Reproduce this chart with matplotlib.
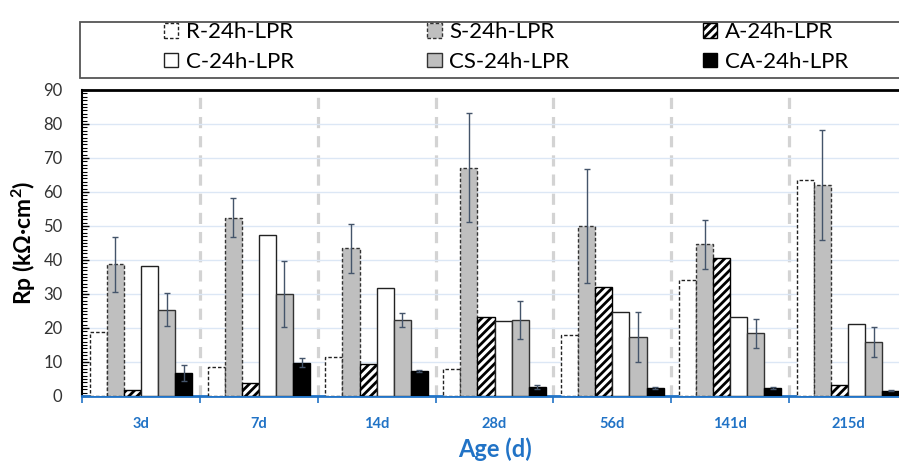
import matplotlib
matplotlib.use("Agg")
import matplotlib.pyplot as plt
import numpy as np
from matplotlib.patches import Patch, Rectangle

plt.rcParams["font.family"] = ["Lato", "DejaVu Sans"]
plt.rcParams["mathtext.fontset"] = "custom"
plt.rcParams["mathtext.bf"] = "Lato:bold"
plt.rcParams["hatch.linewidth"] = 2.0

ages = ["3d", "7d", "14d", "28d", "56d", "141d", "215d"]

r_24h = [18.7, 8.4, 11.4, 7.8, 17.8, 34.0, 63.5]
s_24h = [38.7, 52.5, 43.4, 67.2, 50.0, 44.6, 62.0]
s_err = [8.2, 5.6, 7.1, 15.9, 16.9, 7.3, 16.2]
a_24h = [1.8, 3.7, 9.5, 23.3, 32.0, 40.5, 3.1]
c_24h = [38.3, 47.4, 31.9, 22.0, 24.6, 23.1, 21.3]
cs_24h = [25.4, 30.1, 22.3, 22.3, 17.3, 18.4, 16.0]
cs_err = [4.8, 9.7, 2.0, 5.5, 7.4, 4.3, 4.4]
ca_24h = [6.7, 9.8, 7.4, 2.6, 2.3, 2.3, 1.6]
ca_err = [2.4, 1.4, 0.3, 0.5, 0.3, 0.3, 0.2]

BLUE = "#2173C6"
GREY = "#BFBFBF"
ERR = "#44546A"

series = [
    ("R-24h-LPR", r_24h, None, dict(facecolor="white", edgecolor="#222222", linestyle=(0, (2.5, 1.5)))),
    ("S-24h-LPR", s_24h, s_err, dict(facecolor=GREY, edgecolor="#333333", linestyle=(0, (2.5, 1.5)))),
    ("A-24h-LPR", a_24h, None, dict(facecolor="white", edgecolor="black", hatch="////")),
    ("C-24h-LPR", c_24h, None, dict(facecolor="white", edgecolor="#222222")),
    ("CS-24h-LPR", cs_24h, cs_err, dict(facecolor=GREY, edgecolor="#333333")),
    ("CA-24h-LPR", ca_24h, ca_err, dict(facecolor="black", edgecolor="black")),
]

fig = plt.figure(figsize=(8.99, 4.62), dpi=100)
ax = fig.add_axes([82 / 899, 1 - 396 / 462, 825 / 899, 306 / 462])

x = np.arange(len(ages))
w = 0.145
handles = []
for i, (name, vals, err, style) in enumerate(series):
    pos = x + (i - 2.5) * w
    ax.bar(pos, vals, width=w, linewidth=1.0, zorder=3, **style)
    if err is not None:
        ax.errorbar(pos, vals, yerr=err, fmt="none", ecolor=ERR, elinewidth=1.0,
                    capsize=2.5, capthick=1.0, zorder=4)
    handles.append(Patch(label=name, linewidth=1.0, **style))

ax.set_xlim(-0.5, len(ages) - 0.5)
ax.set_ylim(0, 90)

# separators between ages
for b in x[1:] - 0.5:
    ax.axvline(b, color="#D3D3D3", linewidth=2.3, linestyle=(0, (3.5, 2.5)), zorder=1)

ax.set_yticks(np.arange(0, 91, 10))
ax.set_yticks(np.arange(0, 91, 1), minor=True)
ax.yaxis.grid(True, color="#DCE7F5", linewidth=1.0, zorder=0)
ax.tick_params(axis="y", which="major", direction="in", length=5, width=1, labelsize=12,
               colors="black", labelcolor="#333333", pad=14)
ax.tick_params(axis="y", which="minor", direction="in", length=3.5, width=0.8)

ax.set_xticks(x)
ax.set_xticklabels(ages, color=BLUE, fontweight="bold", fontsize=10.5)
ax.set_xticks(np.arange(len(ages) + 1) - 0.5, minor=True)
ax.tick_params(axis="x", which="major", length=0, pad=15)
ax.tick_params(axis="x", which="minor", direction="out", length=5, width=1.2, color=BLUE)

for side in ("left", "top"):
    ax.spines[side].set_color("black")
ax.spines["left"].set_linewidth(1.5)
ax.spines["top"].set_linewidth(2.0)
ax.spines["right"].set_visible(False)
ax.spines["bottom"].set_color(BLUE)
ax.spines["bottom"].set_linewidth(2.0)

ax.set_ylabel(r"Rp (kΩ·cm$\mathbf{^2}$)", fontsize=16.5, fontweight="bold", labelpad=4)
ax.set_xlabel("Age (d)", fontsize=17, fontweight="bold", color=BLUE, labelpad=5)

# legend box across the top
fig.patches.append(Rectangle((80 / 899, 1 - 78 / 462), 830 / 899, 56 / 462,
                             transform=fig.transFigure, facecolor="white",
                             edgecolor="#555555", linewidth=1.3))
order = [0, 3, 1, 4, 2, 5]
fig.legend([handles[k] for k in order], [handles[k].get_label() for k in order],
           ncol=3, loc="center left", bbox_to_anchor=(148 / 899, 1 - 47 / 462),
           frameon=False, fontsize=16, handlelength=0.65, handleheight=0.6,
           handletextpad=0.35, columnspacing=6.0, labelspacing=0.42,
           borderpad=0.2)

fig.savefig("out.png", dpi=100)
